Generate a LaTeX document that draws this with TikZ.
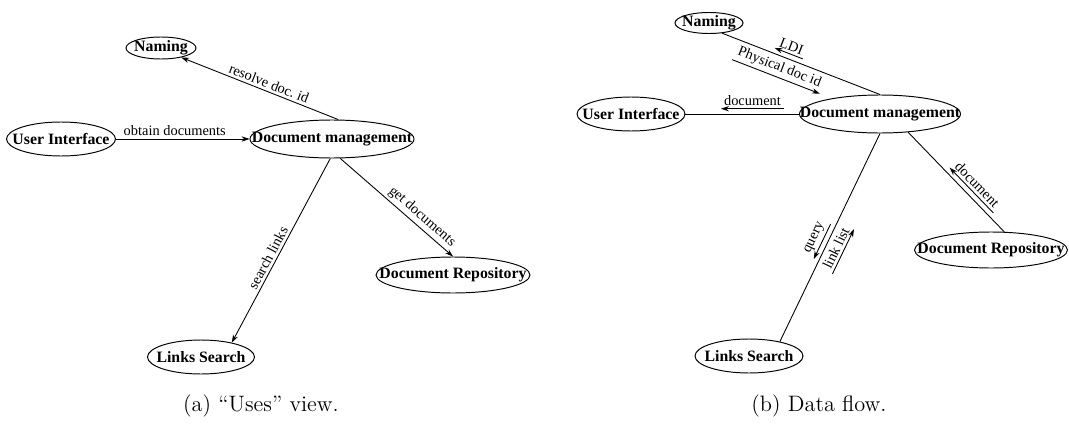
\documentclass[tikz,border=0pt]{standalone}
\usepackage{fontspec}
\newfontfamily\timesfont{Liberation Serif}
\usepackage{tikz}
\usetikzlibrary{arrows.meta, shapes.geometric}

\begin{document}
\begin{tikzpicture}[x=0.02cm, y=-0.02cm, >={Stealth[length=4.5pt, width=3pt]},
    unit/.style={ellipse, draw, line width=0.55pt, inner xsep=-20pt, inner ysep=-4pt,
        minimum height=0.68cm, font=\timesfont\bfseries\fontsize{9}{10}\selectfont},
    lbl/.style={font=\timesfont\fontsize{8.2}{9}\selectfont, inner sep=1.5pt},
    link/.style={line width=0.5pt},
    flow/.style={->, line width=0.5pt},
    caption/.style={font=\fontsize{12.7}{15}\selectfont}]
    \useasboundingbox (0,0) rectangle (1069,426);

    % ── (a) "Uses" view ───────────────────────────────────────────────
    \begin{scope}
        \node[unit, minimum width=1.4cm, minimum height=0.44cm] (naminga) at (161,48) {Naming};
        \node[unit, minimum width=2.18cm] (uia) at (61,139) {User Interface};
        \node[unit, minimum width=3.28cm, minimum height=0.76cm] (dma) at (332,139) {Document management};
        \node[unit, minimum width=3.08cm, minimum height=0.72cm] (repoa) at (453,275) {Document Repository};
        \node[unit, minimum width=2.14cm] (linksa) at (201,357) {Links Search};

        \draw[link, <-] (naminga.-25) -- node[lbl, sloped, above, pos=0.54] {resolve doc.\ id} (dma.72);
        \draw[link, ->] (uia) -- node[lbl, above, pos=0.44] {obtain documents} (dma);
        \draw[link, <-] (linksa.25) -- node[lbl, sloped, above, pos=0.44] {search links} (dma.-95);
        \draw[link, ->] (dma.-67) -- node[lbl, sloped, above, pos=0.67] {get documents} (repoa.north);

        \node[caption] (capa) at (261,406) {(a) “Uses” view.};
    \end{scope}

    % ── (b) Data flow ─────────────────────────────────────────────────
    \begin{scope}
        \node[unit, minimum width=1.36cm, minimum height=0.42cm] (namingb) at (709,23) {Naming};
        \node[unit, minimum width=2.16cm] (uib) at (631,114) {User Interface};
        \node[unit, minimum width=3.22cm, minimum height=0.76cm] (dmb) at (880,114) {Document management};
        \node[unit, minimum width=3.06cm, minimum height=0.72cm] (repob) at (991,250) {Document Repository};
        \node[unit, minimum width=2.16cm] (linksb) at (749,356) {Links Search};

        \draw[link] (namingb.-38) -- node[lbl, sloped, above=3pt, pos=0.41] (ldi) {LDI}
            node[lbl, sloped, below=1pt, pos=0.39] (physid) {Physical doc id} (dmb.north);
        \draw[flow] (ldi.south east) -- (ldi.south west);
        \draw[flow] (physid.south west) -- (physid.south east);

        \draw[link] (uib) -- node[lbl, above=3pt, pos=0.59] (docui) {document} (dmb);
        \draw[flow] (docui.south east) -- (docui.south west);

        \draw[link] (linksb.25) -- node[lbl, sloped, above=3pt, pos=0.47] (query) {query}
            node[lbl, sloped, below=1pt, pos=0.47] (linklist) {link list} (dmb.south);
        \draw[flow] (query.south east) -- (query.south west);
        \draw[flow] (linklist.south west) -- (linklist.south east);

        \draw[link] (dmb.-33) -- node[lbl, sloped, above=3pt, pos=0.62] (docrepo) {document} (repob.54);
        \draw[flow] (docrepo.south east) -- (docrepo.south west);

        \node[caption] (capb) at (819,406) {(b) Data flow.};
    \end{scope}
\end{tikzpicture}
\end{document}
